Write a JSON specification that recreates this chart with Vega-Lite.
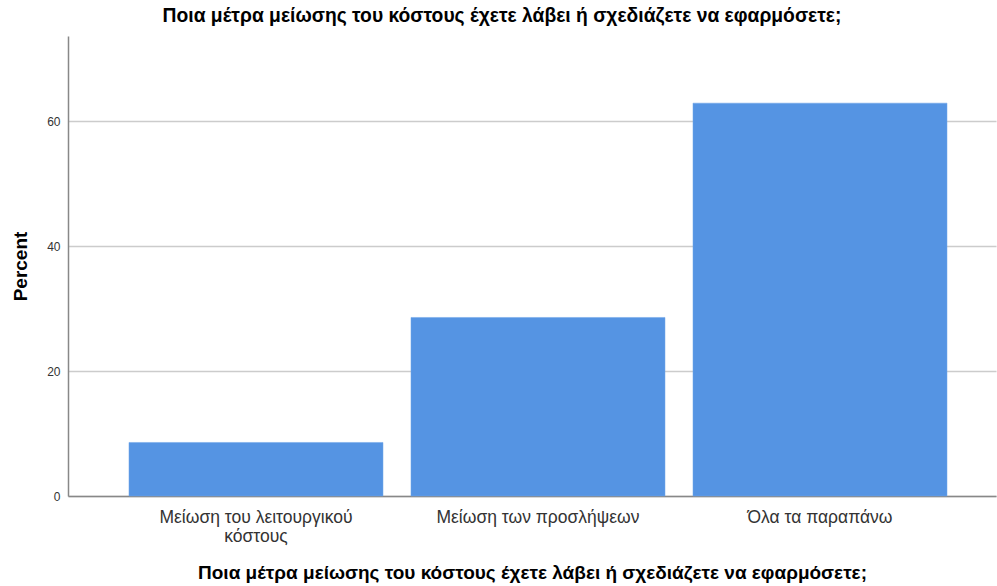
{
  "$schema": "https://vega.github.io/schema/vega-lite/v6.json",
  "autosize": "none",
  "width": 928,
  "height": 460,
  "padding": {"left": 68, "top": 36, "right": 1, "bottom": 90},
  "background": "white",
  "title": {
    "text": "Ποια μέτρα μείωσης του κόστους έχετε λάβει ή σχεδιάζετε να εφαρμόσετε;",
    "font": "Liberation Sans",
    "fontSize": 19.3,
    "fontWeight": "bold",
    "color": "#000000",
    "anchor": "middle",
    "dx": -30,
    "dy": 14,
    "baseline": "alphabetic",
    "offset": 9
  },
  "config": {
    "view": {"stroke": null},
    "font": "Liberation Sans"
  },
  "data": {
    "values": [
      {"category": "Μείωση του λειτουργικού κόστους", "percent": 8.57},
      {"category": "Μείωση των προσλήψεων", "percent": 28.57},
      {"category": "Όλα τα παραπάνω", "percent": 62.86}
    ]
  },
  "layer": [
    {
      "mark": {"type": "bar", "color": "#5594e3", "stroke": "#6ea4e8", "strokeWidth": 0.5},
      "encoding": {
        "x": {
          "field": "category",
          "type": "nominal",
          "sort": null,
          "scale": {"paddingInner": 0.0993, "paddingOuter": 0.195, "align": 0.5545},
          "axis": {
            "title": "Ποια μέτρα μείωσης του κόστους έχετε λάβει ή σχεδιάζετε να εφαρμόσετε;",
            "titleFont": "Liberation Sans",
            "titleFontSize": 19,
            "titleFontWeight": "bold",
            "titleColor": "#000000",
            "titleX": 464,
            "titleY": 82,
            "titleBaseline": "alphabetic",
            "titleAnchor": null,
            "labelAngle": 0,
            "labelFont": "Liberation Sans",
            "labelFontSize": 17.5,
            "labelColor": "#333333",
            "labelPadding": 12,
            "labelLineHeight": 19,
            "labelLimit": 400,
            "labelExpr": "datum.value == 'Μείωση του λειτουργικού κόστους' ? ['Μείωση του λειτουργικού', 'κόστους'] : datum.value",
            "ticks": false,
            "domain": true,
            "domainColor": "#888888",
            "domainWidth": 1.5,
            "grid": false
          }
        },
        "y": {
          "field": "percent",
          "type": "quantitative",
          "scale": {"domain": [0, 73.6], "nice": false},
          "axis": {
            "title": "Percent",
            "titleFont": "Liberation Sans",
            "titleFontSize": 19,
            "titleFontWeight": "bold",
            "titleColor": "#000000",
            "titleX": -48,
            "titleY": 230,
            "titleAngle": -90,
            "titleAlign": "center",
            "titleBaseline": "middle",
            "values": [0, 20, 40, 60],
            "labelFont": "Liberation Sans",
            "labelFontSize": 12,
            "labelColor": "#333333",
            "labelPadding": 8,
            "ticks": false,
            "domain": true,
            "domainColor": "#888888",
            "domainWidth": 1.5,
            "grid": true,
            "gridColor": "#cccccc",
            "gridWidth": 1.5
          }
        }
      }
    }
  ]
}
